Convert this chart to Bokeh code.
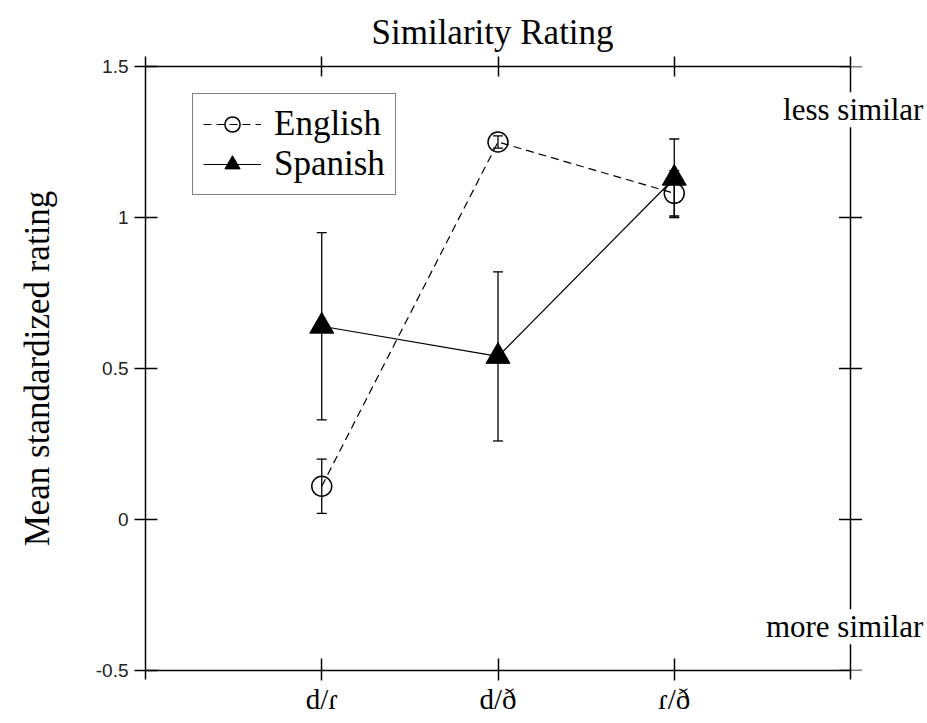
from bokeh.plotting import figure
from bokeh.models import (ColumnDataSource, Whisker, TeeHead, LinearAxis, FixedTicker,
                          Legend, LegendItem, Label, Range1d, Span)
from bokeh.embed import file_html
from bokeh.resources import INLINE

# ---- data ----
categories = ["d/ɾ", "d/ð", "ɾ/ð"]
english_mean = [0.11, 1.25, 1.08]
english_err = [0.09, 0.02, 0.075]
spanish_mean = [0.64, 0.54, 1.13]
spanish_err = [0.31, 0.28, 0.13]
y_ticks = [-0.5, 0, 0.5, 1, 1.5]
y_tick_labels = ["-0.5", "0", "0.5", "1", "1.5"]
scale_labels = ["less similar", "more similar"]
scale_label_y = [1.357, -0.355]

x = list(range(1, len(categories) + 1))
x_max = len(categories) + 1
x_corners = [0, x_max]

SERIF = "Liberation Serif"

# layout: the axis box spans 705 px for x in [0, x_max]; the frame is extended to the
# right so that the "less/more similar" labels can sit over the right-hand axis line
BOX_W = 705
FRAME_W = 779
x_end = x_max * FRAME_W / BOX_W

p = figure(frame_width=FRAME_W, frame_height=604,
           x_range=Range1d(0, x_end), y_range=Range1d(y_ticks[0], y_ticks[-1]),
           x_axis_type=None, y_axis_type=None,
           output_backend="svg", toolbar_location=None,
           min_border_left=145, min_border_right=0, min_border_top=66, min_border_bottom=50)
p.outline_line_color = None
p.background_fill_color = "white"
p.border_fill_color = "white"

p.title.text = "Similarity Rating"
p.title.align = "left"
p.title.offset = 226
p.title.text_font = SERIF
p.title.text_font_size = "35px"
p.title.text_font_style = "normal"
p.title.text_color = "black"

# axes
left = LinearAxis(ticker=FixedTicker(ticks=y_ticks),
                  major_label_overrides=dict(zip(y_ticks, y_tick_labels)))
left.axis_label = "Mean standardized rating"
left.axis_label_text_font = SERIF
left.axis_label_text_font_size = "35px"
left.axis_label_text_font_style = "normal"
left.axis_label_text_color = "black"
left.axis_label_standoff = 36
left.major_label_text_font = "Liberation Sans"
left.major_label_text_font_size = "19px"
left.major_label_text_color = "#222222"
left.major_label_standoff = 6
left.major_tick_in = 12
left.major_tick_out = 11
left.axis_line_width = 1.5
left.major_tick_line_width = 1.5
p.add_layout(left, "left")

bottom = LinearAxis(ticker=FixedTicker(ticks=x, minor_ticks=x_corners),
                    major_label_overrides={xi: c for xi, c in zip(x, categories)},
                    bounds=(0, x_max))
bottom.major_label_text_font = SERIF
bottom.major_label_text_font_size = "29px"
bottom.major_label_text_color = "black"
bottom.major_label_standoff = 2
bottom.major_tick_in = 12
bottom.major_tick_out = 10
bottom.minor_tick_in = 0
bottom.minor_tick_out = 9
bottom.axis_line_width = 1.5
bottom.major_tick_line_width = 1.5
bottom.minor_tick_line_width = 1.5
p.add_layout(bottom, "below")

top = LinearAxis(ticker=FixedTicker(ticks=x, minor_ticks=x_corners), bounds=(0, x_max))
top.major_label_text_color = None
top.major_tick_in = 10
top.major_tick_out = 10
top.minor_tick_in = 0
top.minor_tick_out = 10
top.axis_line_width = 1.5
top.major_tick_line_width = 1.5
top.minor_tick_line_width = 1.5
p.add_layout(top, "above")

# right-hand axis line (at x_max) with crossing ticks
p.add_layout(Span(location=x_max, dimension="height", line_color="black", line_width=1.5))
p.scatter(x=[x_max] * len(y_ticks), y=y_ticks, marker="dash", size=23,
          line_color="black", line_width=1.5)

# error bars
eng_src = ColumnDataSource(dict(x=x, y=english_mean,
                                upper=[m + e for m, e in zip(english_mean, english_err)],
                                lower=[m - e for m, e in zip(english_mean, english_err)]))
sp_src = ColumnDataSource(dict(x=x, y=spanish_mean,
                               upper=[m + e for m, e in zip(spanish_mean, spanish_err)],
                               lower=[m - e for m, e in zip(spanish_mean, spanish_err)]))
for src in (eng_src, sp_src):
    w = Whisker(source=src, base="x", upper="upper", lower="lower", dimension="height",
                line_color="black", line_width=1.3,
                upper_head=TeeHead(size=10, line_color="black", line_width=1.3),
                lower_head=TeeHead(size=10, line_color="black", line_width=1.3))
    p.add_layout(w)

eng_line = p.line("x", "y", source=eng_src, line_color="black", line_width=1.2, line_dash="8 5")
eng_pts = p.scatter("x", "y", source=eng_src, marker="circle", size=20,
                    fill_color=None, line_color="black", line_width=1.5)
sp_line = p.line("x", "y", source=sp_src, line_color="black", line_width=1.2)
sp_pts = p.scatter("x", "y", source=sp_src, marker="triangle", size=24,
                   fill_color="black", line_color="black", line_width=1)

legend = Legend(items=[LegendItem(label="English", renderers=[eng_line, eng_pts]),
                       LegendItem(label="Spanish", renderers=[sp_line, sp_pts])],
                location=(47, 475), label_text_font=SERIF, label_text_font_size="35px",
                label_text_color="black",
                glyph_width=58, glyph_height=38, label_height=38, spacing=-5,
                padding=10, label_standoff=13, margin=0,
                border_line_color="black", border_line_width=1.5,
                background_fill_color="white", background_fill_alpha=1)
p.add_layout(legend)

label_x = x_end - 0.006
for txt, yy in zip(scale_labels, scale_label_y):
    p.add_layout(Label(x=label_x, y=yy, text=txt, text_align="right", text_baseline="alphabetic",
                       text_font=SERIF, text_font_size="31px", text_color="black",
                       background_fill_color="white", background_fill_alpha=1))

open("out.html", "w").write(file_html(p, INLINE))
